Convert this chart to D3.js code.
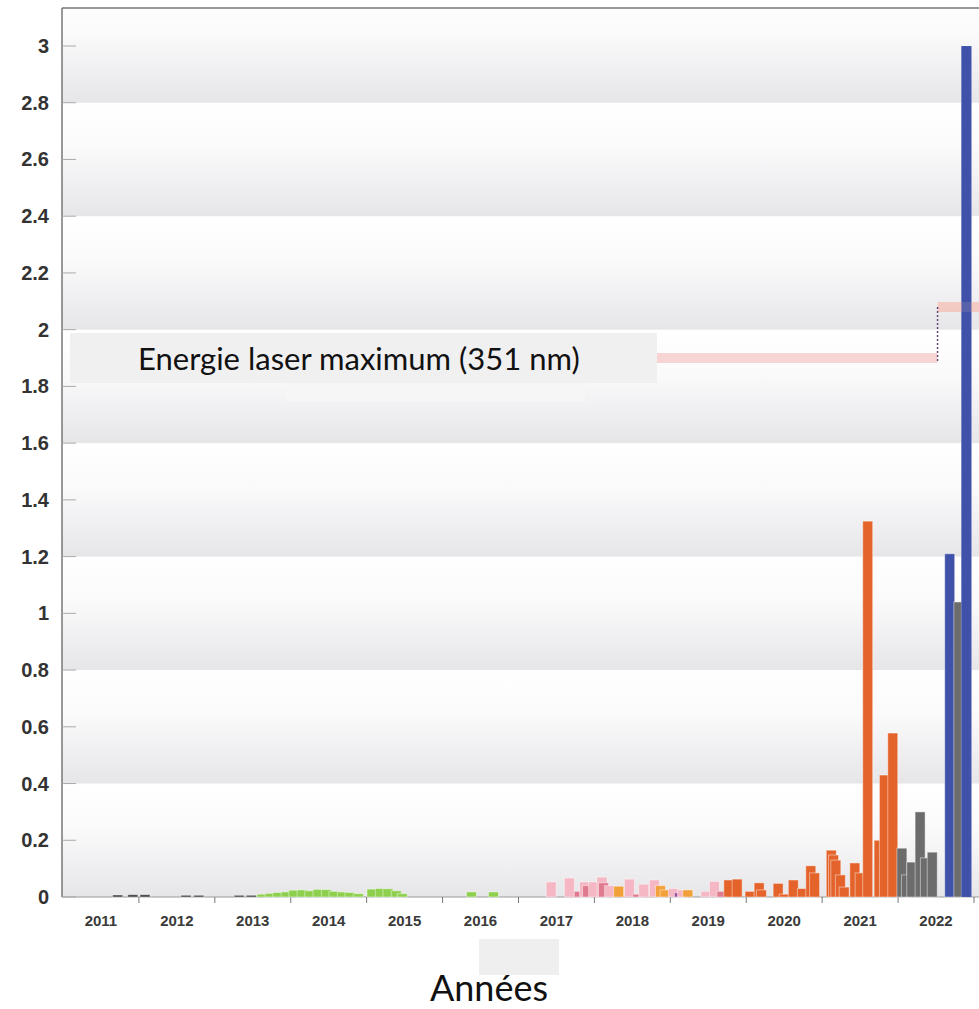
<!DOCTYPE html>
<html>
<head>
<meta charset="utf-8">
<script src="https://cdn.jsdelivr.net/npm/d3@7"></script>
<style>
  body { margin: 0; background: #fff; }
  .yLabel { font-family: "Liberation Sans", Arial, sans-serif; font-weight: bold; font-size: 20px; fill: #333; }
  .xLabel { font-family: "Liberation Sans", Arial, sans-serif; font-weight: bold; font-size: 15px; fill: #3a3a3a; }
  .note { font-family: Lato, "Open Sans", sans-serif; font-size: 31px; fill: #111; }
  .axisTitle { font-family: Lato, "Open Sans", sans-serif; font-size: 36px; fill: #111; }
</style>
</head>
<body>
<script>
// shots, [date (decimal year), energy]
var darkShots = [[2011.72, 0.007], [2011.92, 0.008], [2012.08, 0.008], [2012.62, 0.006], [2012.79, 0.006], [2013.32, 0.006], [2013.48, 0.006]];
var greenShots = [[2013.62, 0.010], [2013.73, 0.013], [2013.83, 0.016], [2013.94, 0.018], [2014.04, 0.024], [2014.15, 0.025],
  [2014.25, 0.022], [2014.36, 0.027], [2014.47, 0.026], [2014.57, 0.020], [2014.68, 0.018], [2014.78, 0.016], [2014.89, 0.012],
  [2015.07, 0.028], [2015.18, 0.030], [2015.28, 0.029], [2015.39, 0.022], [2015.47, 0.012], [2016.38, 0.018], [2016.67, 0.018]];
var pinkShots = [[2017.43, 0.053], [2017.67, 0.067], [2017.87, 0.053], [2017.99, 0.053], [2018.10, 0.070], [2018.20, 0.040],
  [2018.46, 0.063], [2018.65, 0.045], [2018.79, 0.060], [2019.04, 0.030], [2019.16, 0.025], [2019.47, 0.020], [2019.58, 0.055]];
var roseShots = [[2017.80, 0.020], [2017.91, 0.040], [2018.12, 0.050], [2018.57, 0.010], [2019.68, 0.020]];
var purpleShots = [[2019.12, 0.015]];
var amberShots = [[2018.32, 0.038], [2018.87, 0.040], [2018.93, 0.025], [2019.23, 0.025]];
var orangeShots = [[2019.77, 0.060], [2019.88, 0.063], [2020.05, 0.020], [2020.17, 0.050], [2020.20, 0.025], [2020.42, 0.048],
  [2020.50, 0.010], [2020.62, 0.060], [2020.74, 0.030], [2020.85, 0.110], [2020.90, 0.085], [2021.12, 0.165], [2021.15, 0.148],
  [2021.18, 0.130], [2021.24, 0.078], [2021.29, 0.035], [2021.43, 0.120], [2021.50, 0.085], [2021.60, 1.325], [2021.75, 0.200],
  [2021.82, 0.430], [2021.93, 0.578]];
var grayShots = [[2022.05, 0.172], [2022.11, 0.078], [2022.18, 0.123], [2022.29, 0.300], [2022.36, 0.138], [2022.45, 0.158], [2022.80, 1.040]];
var blueShots = [[2022.68, 1.210], [2022.90, 3.000]];

var years = d3.range(2011, 2023);
var yTicks = d3.range(0, 3.01, 0.2);
var laserSteps = [[2016.0, 2022.52, 1.90], [2022.52, 2023.2, 2.08]];

var width = 979, height = 1009;
var marginLeft = 62, marginTop = 8, axisY = 897;

var svg = d3.select("body").append("svg")
  .attr("width", width)
  .attr("height", height);

var x = d3.scaleLinear().domain([2011, 2023]).range([63, 974]);
var y = d3.scaleLinear().domain([0, 3]).range([axisY, 46]);

// gradient bands behind the bars
var defs = svg.append("defs");
var grad = defs.append("linearGradient")
  .attr("id", "band")
  .attr("x1", 0).attr("y1", 0).attr("x2", 0).attr("y2", 1);
grad.append("stop").attr("offset", "0%").attr("stop-color", "#ffffff");
grad.append("stop").attr("offset", "40%").attr("stop-color", "#fafafb");
grad.append("stop").attr("offset", "100%").attr("stop-color", "#e6e6e9");

defs.append("clipPath").attr("id", "plotClip")
  .append("rect")
  .attr("x", marginLeft).attr("y", marginTop)
  .attr("width", width - marginLeft).attr("height", axisY - marginTop);

svg.append("g").attr("clip-path", "url(#plotClip)")
  .selectAll(".band")
  .data(d3.range(0, 3.2, 0.4))
  .enter()
  .append("rect")
  .attr("class", "band")
  .attr("x", marginLeft)
  .attr("width", width - marginLeft)
  .attr("y", function (d) { return y(d + 0.4); })
  .attr("height", function (d) { return y(d) - y(d + 0.4); })
  .attr("fill", "url(#band)");

// frame + axes
svg.append("line").attr("x1", marginLeft).attr("x2", width).attr("y1", marginTop).attr("y2", marginTop).attr("stroke", "#777").attr("stroke-width", 1.5);
svg.append("line").attr("x1", marginLeft).attr("x2", marginLeft).attr("y1", marginTop).attr("y2", axisY).attr("stroke", "#777").attr("stroke-width", 1.5);
svg.append("line").attr("x1", marginLeft).attr("x2", width).attr("y1", axisY).attr("y2", axisY).attr("stroke", "#9a9a9a").attr("stroke-width", 1.2);

svg.selectAll(".yTick")
  .data(yTicks)
  .enter()
  .append("line")
  .attr("class", "yTick")
  .attr("x1", marginLeft).attr("x2", marginLeft + 14)
  .attr("y1", function (d) { return y(d); })
  .attr("y2", function (d) { return y(d); })
  .attr("stroke", "#aaa");

svg.selectAll(".yLabel")
  .data(yTicks)
  .enter()
  .append("text")
  .attr("class", "yLabel")
  .attr("x", 49)
  .attr("y", function (d) { return y(d) + 7; })
  .attr("text-anchor", "end")
  .text(function (d) { return d3.format("~g")(+d.toFixed(1)); });

svg.selectAll(".xTick")
  .data(years.slice(1).concat([2023]))
  .enter()
  .append("line")
  .attr("class", "xTick")
  .attr("x1", function (d) { return x(d); })
  .attr("x2", function (d) { return x(d); })
  .attr("y1", axisY).attr("y2", axisY + 6)
  .attr("stroke", "#777");

svg.selectAll(".xLabel")
  .data(years)
  .enter()
  .append("text")
  .attr("class", "xLabel")
  .attr("x", function (d) { return x(d + 0.5); })
  .attr("y", 926)
  .attr("text-anchor", "middle")
  .text(function (d) { return d; });

// bars
var series = [
  { data: darkShots, color: "#3c3c3c" },
  { data: greenShots, color: "#8ed04e" },
  { data: pinkShots, color: "#f4b7c3" },
  { data: roseShots, color: "#e07a8f" },
  { data: purpleShots, color: "#9b4f9e" },
  { data: amberShots, color: "#f2a03a" },
  { data: orangeShots, color: "#e4632b" },
  { data: grayShots, color: "#6c6c6c" },
  { data: blueShots, color: "#3f51a9" }
];
var barWidth = 10;

var shots = [];
series.forEach(function (s) {
  s.data.forEach(function (d) { shots.push({ date: d[0], value: d[1], color: s.color }); });
});
shots.sort(function (a, b) { return a.date - b.date; });

svg.append("g").selectAll(".bar")
  .data(shots)
  .enter()
  .append("rect")
  .attr("class", "bar")
  .attr("x", function (d) { return x(d.date) - barWidth / 2; })
  .attr("width", barWidth)
  .attr("y", function (d) { return y(d.value); })
  .attr("height", function (d) { return axisY - y(d.value); })
  .attr("fill", function (d) { return d.color; })
  .attr("stroke", "rgba(255,255,255,0.45)")
  .attr("stroke-width", 1);

// laser maximum steps
svg.selectAll(".laser")
  .data(laserSteps)
  .enter()
  .append("line")
  .attr("class", "laser")
  .attr("x1", function (d) { return x(d[0]); })
  .attr("x2", function (d) { return x(d[1]); })
  .attr("y1", function (d) { return y(d[2]); })
  .attr("y2", function (d) { return y(d[2]); })
  .attr("stroke", function (d, i) { return i === 0 ? "#f7d0d0" : "#f3c6bd"; })
  .attr("stroke-opacity", 0.9)
  .attr("stroke-width", 10);

svg.append("line")
  .attr("x1", x(laserSteps[1][0])).attr("x2", x(laserSteps[1][0]))
  .attr("y1", y(laserSteps[0][2]) + 3).attr("y2", y(laserSteps[1][2]))
  .attr("stroke", "#5d4a78")
  .attr("stroke-width", 1.5)
  .attr("stroke-dasharray", "2,2");

// redraw the tall blue bar over the step line
svg.append("rect")
  .attr("x", x(blueShots[1][0]) - barWidth / 2)
  .attr("width", barWidth)
  .attr("y", y(blueShots[1][1]))
  .attr("height", axisY - y(blueShots[1][1]))
  .attr("fill", "#3f51a9")
  .attr("fill-opacity", 0.85);

// label box
svg.append("rect").attr("x", 70).attr("y", 333).attr("width", 587).attr("height", 50).attr("fill", "#f0f0f1");
svg.append("rect").attr("x", 285).attr("y", 383).attr("width", 300).attr("height", 18).attr("fill", "#f6f6f7");
svg.append("text")
  .attr("class", "note")
  .attr("x", 138)
  .attr("y", 370)
  .text("Energie laser maximum (351 nm)");

// x axis title
svg.append("rect").attr("x", 479).attr("y", 939).attr("width", 80).attr("height", 36).attr("fill", "#efefef");
svg.append("text")
  .attr("class", "axisTitle")
  .attr("x", 489)
  .attr("y", 1001)
  .attr("text-anchor", "middle")
  .text("Années");
</script>
</body>
</html>
